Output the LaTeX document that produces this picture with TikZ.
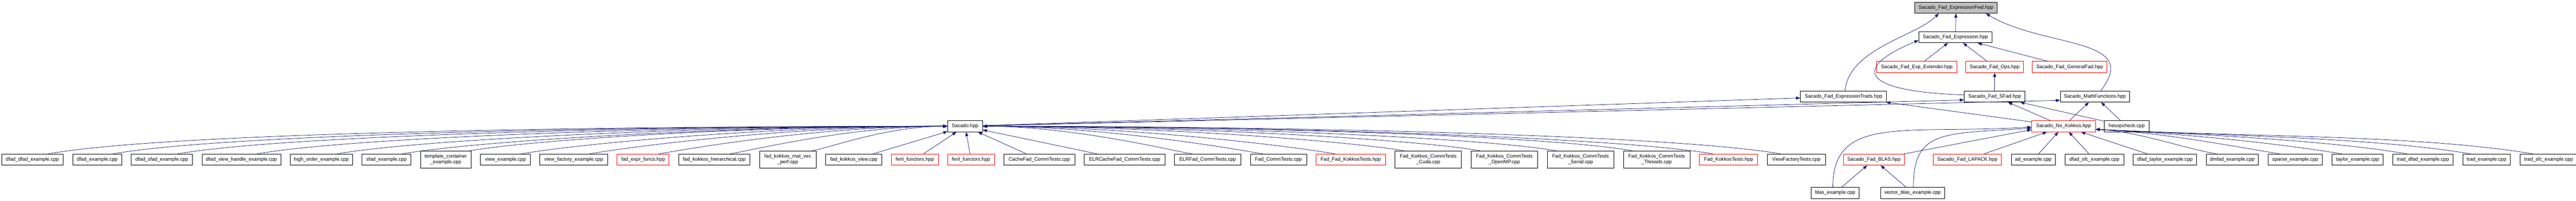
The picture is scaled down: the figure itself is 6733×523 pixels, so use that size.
\documentclass[tikz,border=0pt]{standalone}
\usepackage{fontspec}
\setmainfont{Liberation Sans}
\usepackage{tikz}
\usepackage{xcolor}
\usetikzlibrary{arrows.meta,chains,positioning}
\definecolor{incblue}{HTML}{191970}
\definecolor{hdrred}{HTML}{FF0000}
\definecolor{rootgray}{HTML}{BFBFBF}
\tikzset{
  file/.style={ % image of one file of the graph
    draw=black, line width=1pt, rectangle, fill=white,
    minimum height=29pt, inner sep=2pt, align=center,
    font=\fontsize{13}{15}\selectfont, text=black
  },
  twoline/.style={file, minimum height=45pt}, % long name, broken in two
  redfile/.style={file, draw=hdrred},
  rootfile/.style={file, fill=rootgray},
  inc/.style={ % image of an include edge
    draw=incblue, line width=1pt,
    -{Triangle[length=11pt,width=8pt]}
  }
}

\begin{document}
\begin{tikzpicture}[x=1pt, y=1pt, node distance=24pt]
    \useasboundingbox (0,0) rectangle (6733,523);
    \fill[white] (0,0) rectangle (6733,523);

    \node[rootfile, minimum width=215pt] (fwd) at (5112.5,503) {Sacado\_Fad\_ExpressionFwd.hpp};
    \node[file, minimum width=192pt] (expr) at (5111,426) {Sacado\_Fad\_Expression.hpp};
    \node[redfile, minimum width=210pt] (ext) at (5010,348.5) {Sacado\_Fad\_Exp\_Extender.hpp};
    \node[redfile, minimum width=151pt] (ops) at (5213.5,348.5) {Sacado\_Fad\_Ops.hpp};
    \node[redfile, minimum width=195pt] (gfad) at (5409.5,348.5) {Sacado\_Fad\_GeneralFad.hpp};
    \node[file, minimum width=225pt] (etr) at (4818.5,271.5) {Sacado\_Fad\_ExpressionTraits.hpp};
    \node[file, minimum width=159pt] (sfad) at (5213.5,271.5) {Sacado\_Fad\_SFad.hpp};
    \node[file, minimum width=181pt] (mfun) at (5475.5,271.5) {Sacado\_MathFunctions.hpp};
    \node[file, minimum width=91pt] (sac) at (2522.5,194) {Sacado.hpp};
    \node[redfile, minimum width=167pt] (nok) at (5393.5,194) {Sacado\_No\_Kokkos.hpp};
    \node[file, minimum width=117pt] (hes) at (5558.5,194) {hesopcheck.cpp};
    \node[redfile, minimum width=160pt] (blas) at (4898,107) {Sacado\_Fad\_BLAS.hpp};
    \node[redfile, minimum width=178pt] (lapack) at (5142,107) {Sacado\_Fad\_LAPACK.hpp};
    \node[file, minimum width=125pt] (bex) at (4796.5,20.5) {blas\_example.cpp};
    \node[file, minimum width=168pt] (vbex) at (4999,20.5) {vector\_blas\_example.cpp};

    \begin{scope}[start chain=lft going right]
    \node[file, on chain, minimum width=161pt] (l1) at (84.5,107) {dfad\_dfad\_example.cpp};
    \node[file, on chain, minimum width=128pt] (l2) {dfad\_example.cpp};
    \node[file, on chain, minimum width=160pt] (l3) {dfad\_sfad\_example.cpp};
    \node[file, on chain, minimum width=206pt] (l4) {dfad\_view\_handle\_example.cpp};
    \node[file, on chain, minimum width=162pt] (l5) {high\_order\_example.cpp};
    \node[file, on chain, minimum width=128pt] (l6) {sfad\_example.cpp};
    \node[twoline, on chain, minimum width=132pt] (l7) {template\_container\\\_example.cpp};
    \node[file, on chain, minimum width=130pt] (l8) {view\_example.cpp};
    \node[file, on chain, minimum width=177pt] (l9) {view\_factory\_example.cpp};
    \node[redfile, on chain, minimum width=136pt] (l10) {fad\_expr\_funcs.hpp};
    \node[file, on chain, minimum width=186pt] (l11) {fad\_kokkos\_hierarchical.cpp};
    \node[twoline, on chain, minimum width=148pt] (l12) {fad\_kokkos\_mat\_vec\\\_perf.cpp};
    \node[file, on chain, minimum width=147pt] (l13) {fad\_kokkos\_view.cpp};
    \node[redfile, on chain, minimum width=122pt] (l14) {fenl\_functors.hpp};
    \node[redfile, on chain, minimum width=122pt] (l15) {fenl\_functors.hpp};
    \node[file, on chain, minimum width=185pt] (l16) {CacheFad\_CommTests.cpp};
    \node[file, on chain, minimum width=211pt] (l17) {ELRCacheFad\_CommTests.cpp};
    \node[file, on chain, minimum width=173pt] (l18) {ELRFad\_CommTests.cpp};
    \node[file, on chain, minimum width=147pt] (l19) {Fad\_CommTests.cpp};
    \node[redfile, on chain, minimum width=181pt] (l20) {Fad\_Fad\_KokkosTests.hpp};
    \node[twoline, on chain, minimum width=174pt] (l21) {Fad\_Kokkos\_CommTests\\\_Cuda.cpp};
    \node[twoline, on chain, minimum width=174pt] (l22) {Fad\_Kokkos\_CommTests\\\_OpenMP.cpp};
    \node[twoline, on chain, minimum width=174pt] (l23) {Fad\_Kokkos\_CommTests\\\_Serial.cpp};
    \node[twoline, on chain, minimum width=174pt] (l24) {Fad\_Kokkos\_CommTests\\\_Threads.cpp};
    \node[redfile, on chain, minimum width=152pt] (l25) {Fad\_KokkosTests.hpp};
    \node[file, on chain, minimum width=152pt] (l26) {ViewFactoryTests.cpp};
    \end{scope}

    \begin{scope}[start chain=rgt going right]
    \node[file, on chain, minimum width=115pt] (r1) at (5314.5,107) {ad\_example.cpp};
    \node[file, on chain, minimum width=154pt] (r2) {dfad\_sfc\_example.cpp};
    \node[file, on chain, minimum width=165pt] (r3) {dfad\_taylor\_example.cpp};
    \node[file, on chain, minimum width=137pt] (r4) {dmfad\_example.cpp};
    \node[file, on chain, minimum width=142pt] (r5) {sparse\_example.cpp};
    \node[file, on chain, minimum width=134pt] (r6) {taylor\_example.cpp};
    \node[file, on chain, minimum width=158pt] (r7) {trad\_dfad\_example.cpp};
    \node[file, on chain, minimum width=124pt] (r8) {trad\_example.cpp};
    \node[file, on chain, minimum width=151pt] (r9) {trad\_sfc\_example.cpp};
    \end{scope}

    % headers
    \draw[inc] (expr) -- (fwd);
    \draw[inc] ([xshift=4pt]etr.north) .. controls +(10,110) and +(-60,-60) .. ([xshift=-45pt]fwd.south);
    \draw[inc] ([xshift=15pt]mfun.north) .. controls +(110,140) and +(150,-90) .. ([xshift=78pt]fwd.south);
    \draw[inc] (ext) -- (expr);
    \draw[inc] (ops) -- (expr);
    \draw[inc] (gfad) -- (expr);
    \draw[inc] ([yshift=4pt]sfad.west) .. controls +(-280,10) and +(-170,-70) .. ([yshift=-8pt]expr.west);
    \draw[inc] (sfad) -- (ops);
    \draw[inc] (sac) -- (etr);
    \draw[inc] (sac) -- ([yshift=-9pt]sfad.west);
    \draw[inc] (sac) -- ([yshift=-10pt]mfun.west);
    \draw[inc] (nok) -- (etr);
    \draw[inc] (nok) -- (sfad);
    \draw[inc] (nok) -- (mfun);
    \draw[inc] (hes) -- (sfad);
    \draw[inc] (hes) -- (mfun);

    % files including Sacado.hpp
    \draw[inc] (l1.20) .. controls +(299,53) and +(-1011,0) .. (sac.west);
    \draw[inc] (l2.20) .. controls +(277,49) and +(-939,0) .. (sac.west);
    \draw[inc] (l3.20) .. controls +(256,45) and +(-867,0) .. (sac.west);
    \draw[inc] (l4.20) .. controls +(230,41) and +(-778,0) .. (sac.west);
    \draw[inc] (l5.20) .. controls +(203,36) and +(-688,0) .. (sac.west);
    \draw[inc] (l6.20) .. controls +(182,32) and +(-616,0) .. (sac.west);
    \draw[inc] (l7.20) .. controls +(160,28) and +(-540,0) .. (sac.west);
    \draw[inc] (l8.20) .. controls +(143,25) and +(-483,0) .. (sac.west);
    \draw[inc] (l9.20) .. controls +(120,21) and +(-406,0) .. (sac.west);
    \draw[inc] (l10.20) .. controls +(97,17) and +(-329,0) .. (sac.west);
    \draw[inc] (l11.20) .. controls +(74,13) and +(-249,0) .. (sac.west);
    \draw[inc] (l12.20) .. controls +(47,8) and +(-158,0) .. (sac.west);
    \draw[inc] (l13) -- (sac);
    \draw[inc] (l14) -- (sac);
    \draw[inc] (l15) -- (sac);
    \draw[inc] (l16) -- (sac);
    \draw[inc] (l17) -- (sac);
    \draw[inc] (l18.160) .. controls +(-67,12) and +(228,0) .. (sac.east);
    \draw[inc] (l19.160) .. controls +(-91,16) and +(307,0) .. (sac.east);
    \draw[inc] (l20.160) .. controls +(-115,20) and +(388,0) .. (sac.east);
    \draw[inc] (l21.160) .. controls +(-138,24) and +(466,0) .. (sac.east);
    \draw[inc] (l22.160) .. controls +(-163,29) and +(551,0) .. (sac.east);
    \draw[inc] (l23.160) .. controls +(-188,33) and +(636,0) .. (sac.east);
    \draw[inc] (l24.160) .. controls +(-213,38) and +(721,0) .. (sac.east);
    \draw[inc] (l25.160) .. controls +(-240,42) and +(811,0) .. (sac.east);
    \draw[inc] (l26.160) .. controls +(-262,46) and +(887,0) .. (sac.east);

    % files including Sacado_No_Kokkos.hpp
    \draw[inc] (blas) -- ([yshift=-9pt]nok.west);
    \draw[inc] ([xshift=-6pt]bex.north) .. controls +(0,190) and +(-330,-20) .. ([yshift=-2pt]nok.west);
    \draw[inc] ([xshift=2pt]vbex.north) .. controls +(0,150) and +(-230,-15) .. ([yshift=-5pt]nok.west);
    \draw[inc] (bex) -- (blas);
    \draw[inc] (vbex) -- (blas);
    \draw[inc] (lapack) -- (nok);
    \draw[inc] (r1) -- (nok);
    \draw[inc] (r2) -- (nok);
    \draw[inc] (r3) -- (nok);
    \draw[inc] (r4.160) .. controls +(-83,14) and +(111,-6) .. ([yshift=-8pt]nok.east);
    \draw[inc] (r5.160) .. controls +(-126,21) and +(168,-8) .. ([yshift=-8pt]nok.east);
    \draw[inc] (r6.160) .. controls +(-169,28) and +(225,-11) .. ([yshift=-8pt]nok.east);
    \draw[inc] (r7.160) .. controls +(-214,36) and +(285,-14) .. ([yshift=-8pt]nok.east);
    \draw[inc] (r8.160) .. controls +(-257,43) and +(343,-17) .. ([yshift=-8pt]nok.east);
    \draw[inc] (r9.160) .. controls +(-300,50) and +(400,-20) .. ([yshift=-8pt]nok.east);
\end{tikzpicture}
\end{document}
